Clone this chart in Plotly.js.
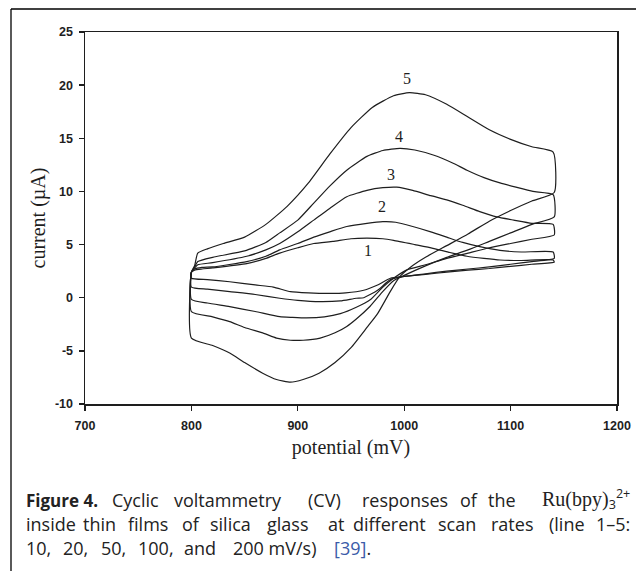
<!DOCTYPE html>
<html>
<head>
<meta charset="utf-8">
<script src="https://cdn.plot.ly/plotly-3.0.1.min.js"></script>
<style>html,body{margin:0;padding:0;background:#fff;}#chart{width:636px;height:571px;}</style>
</head>
<body>
<div id="chart"></div>
<script>
// ---- data (potential in mV, current in µA) ----
const curve1FwdX = [800, 803, 810, 820, 852, 870, 883, 900, 915, 933, 950, 965, 980, 990, 1010, 1027, 1043, 1059, 1075, 1090, 1110, 1140];
const curve1FwdY = [2.4, 2.6, 2.7, 2.8, 3.2, 3.7, 4.2, 4.7, 5.1, 5.3, 5.55, 5.6, 5.55, 5.4, 5.0, 4.65, 4.25, 3.9, 3.7, 3.55, 3.5, 3.55];
const curve1RevX = [1141, 1120, 1100, 1080, 1060, 1040, 1020, 1000, 987, 975, 962, 945, 930, 910, 893, 877, 860, 836, 815, 800, 800];
const curve1RevY = [3.35, 3.15, 2.95, 2.75, 2.6, 2.4, 2.2, 2.0, 1.83, 1.2, 0.7, 0.45, 0.4, 0.45, 0.57, 1.0, 1.2, 1.5, 1.7, 1.83, 2.4];

const curve2FwdX = [800, 803, 810, 820, 852, 870, 883, 900, 915, 930, 946, 965, 980, 992, 1008, 1025, 1040, 1055, 1071, 1090, 1110, 1140];
const curve2FwdY = [2.4, 2.7, 2.85, 2.9, 3.4, 3.9, 4.5, 5.1, 5.7, 6.2, 6.7, 7.0, 7.15, 7.1, 6.7, 6.2, 5.7, 5.2, 4.8, 4.45, 4.3, 4.3];
const curve2RevX = [1141, 1120, 1100, 1080, 1060, 1040, 1020, 1000, 987, 975, 962, 955, 940, 921, 900, 883, 860, 836, 815, 800, 800];
const curve2RevY = [3.7, 3.4, 3.15, 2.9, 2.7, 2.5, 2.25, 2.0, 1.7, 0.7, 0.0, -0.05, -0.3, -0.37, -0.25, -0.05, 0.3, 0.57, 0.8, 1.0, 2.4];

const curve3FwdX = [800, 803, 806, 820, 852, 870, 883, 900, 915, 930, 946, 965, 980, 993, 1008, 1025, 1040, 1055, 1071, 1087, 1103, 1120, 1140];
const curve3FwdY = [2.4, 2.8, 3.1, 3.3, 3.9, 4.5, 5.1, 6.2, 7.3, 8.4, 9.5, 10.1, 10.35, 10.4, 10.1, 9.6, 9.2, 8.7, 8.1, 7.6, 7.3, 7.0, 6.9];
const curve3RevX = [1141, 1120, 1100, 1080, 1060, 1040, 1020, 1002, 990, 980, 968, 955, 940, 925, 908, 895, 883, 860, 836, 815, 800, 800];
const curve3RevY = [5.9, 5.5, 5.1, 4.7, 4.2, 3.7, 3.1, 2.6, 1.83, 1.0, -0.2, -0.9, -1.5, -1.8, -1.9, -1.85, -1.78, -1.3, -0.84, -0.5, -0.15, 2.4];

const curve4FwdX = [800, 803, 806, 820, 850, 870, 883, 900, 915, 930, 946, 965, 980, 996, 1010, 1028, 1045, 1059, 1075, 1090, 1105, 1121, 1140];
const curve4FwdY = [2.4, 2.9, 3.4, 3.8, 4.4, 5.2, 6.1, 7.3, 8.9, 10.5, 12.0, 13.3, 13.85, 14.05, 13.9, 13.4, 12.7, 12.0, 11.3, 10.8, 10.4, 10.0, 9.7];
const curve4RevX = [1141, 1120, 1100, 1080, 1060, 1040, 1020, 1000, 990, 980, 968, 955, 946, 935, 921, 905, 893, 880, 868, 850, 836, 820, 800, 800];
const curve4RevY = [7.6, 6.9, 6.1, 5.3, 4.5, 3.8, 3.0, 2.1, 1.6, 0.6, -0.8, -2.0, -2.7, -3.3, -3.8, -4.0, -4.0, -3.8, -3.35, -2.8, -2.25, -1.8, -1.3, 2.4];

const curve5FwdX = [800, 803, 806, 815, 830, 850, 870, 890, 910, 930, 950, 970, 990, 1005, 1020, 1040, 1060, 1080, 1100, 1120, 1140];
const curve5FwdY = [2.4, 3.0, 4.2, 4.6, 5.1, 5.7, 6.9, 8.6, 10.8, 13.5, 16.0, 17.9, 19.0, 19.3, 19.1, 18.2, 17.0, 15.8, 14.9, 14.2, 13.7];
const curve5RevX = [1141, 1120, 1100, 1080, 1060, 1040, 1020, 1005, 996, 987, 975, 965, 950, 935, 920, 905, 893, 880, 867, 850, 836, 820, 800, 800];
const curve5RevY = [9.9, 9.1, 8.2, 7.2, 6.0, 4.9, 3.8, 2.8, 2.0, 0.6, -1.5, -2.8, -4.7, -6.1, -7.1, -7.7, -7.95, -7.7, -7.1, -6.1, -5.2, -4.5, -3.8, 2.4];

const curveLabels = ["1", "2", "3", "4", "5"];
const labelX = [966, 979, 988, 995, 1003];
const labelY = [4.4, 8.6, 11.6, 15.2, 20.6];

const xTickVals = [700, 800, 900, 1000, 1100, 1200];
const yTickVals = [-10, -5, 0, 5, 10, 15, 20, 25];

// caption words (justified lines are set word by word)
const captionLine1 = ['<b style="font-size:17px">Figure 4.</b>', 'Cyclic', 'voltammetry', '(CV)', 'responses', 'of', 'the'];
const captionLine2 = ['inside', 'thin', 'films', 'of', 'silica', 'glass', 'at', 'different', 'scan', 'rates', '(line'];
const captionLine3 = ['10,', '20,', '50,', '100,', 'and', '200 mV/s)', '<span style="color:#3b5ba8">[39]</span>.'];

// ---- layout geometry (pixels) ----
const W = 636, H = 571;
const L = 85, R = 617, T = 32, B = 404;
const px2x = p => (p - L) / (R - L);
const py2y = p => (B - p) / (B - T);
const line1Left = [24, 110, 172, 306, 360, 458, 486];
const line2Left = [24, 81, 126, 180, 208, 265, 326, 351, 436, 489, 547];
const line3Left = [24, 61, 99, 136, 182, 231, 332];

const ink = '#1e1e1e';
const fwdX = [curve1FwdX, curve2FwdX, curve3FwdX, curve4FwdX, curve5FwdX];
const fwdY = [curve1FwdY, curve2FwdY, curve3FwdY, curve4FwdY, curve5FwdY];
const revX = [curve1RevX, curve2RevX, curve3RevX, curve4RevX, curve5RevX];
const revY = [curve1RevY, curve2RevY, curve3RevY, curve4RevY, curve5RevY];

const traces = fwdX.map((fx, i) => ({
  type: 'scatter', mode: 'lines',
  x: fx.concat(revX[i]), y: fwdY[i].concat(revY[i]),
  line: {color: ink, width: 1.2, shape: 'spline', smoothing: 0.5},
  hoverinfo: 'skip', showlegend: false
}));

const annotations = curveLabels.map((t, i) => ({
  x: labelX[i], y: labelY[i], xref: 'x', yref: 'y', text: t, showarrow: false,
  font: {family: 'Liberation Serif, serif', size: 16, color: ink}
}));

const capFont = {family: 'Open Sans, Noto Sans, sans-serif', size: 18, color: '#222'};
function cap(text, px, py, anchor) {
  annotations.push({xref: 'paper', yref: 'paper', x: px2x(px), y: py2y(py), text: text,
    showarrow: false, xanchor: anchor, yanchor: 'middle', font: capFont});
}
const l1 = 500, l2 = 524, l3 = 548;
captionLine1.forEach((w, i) => cap(w, line1Left[i], l1, 'left'));
cap('<span style="font-family:Liberation Serif;font-size:20px">Ru(bpy)</span><sub>3</sub><sup>2+</sup>', 632, l1 - 1, 'right');
captionLine2.forEach((w, i) => cap(w, line2Left[i], l2, 'left'));
cap('1–5:', 632, l2, 'right');
captionLine3.forEach((w, i) => cap(w, line3Left[i], l3, 'left'));

const shapes = [
  {type: 'line', xref: 'paper', yref: 'paper', x0: px2x(11), x1: px2x(11), y0: py2y(9), y1: py2y(H + 5), line: {color: '#000', width: 1.3}},
  {type: 'line', xref: 'paper', yref: 'paper', x0: px2x(11), x1: px2x(W + 5), y0: py2y(9), y1: py2y(9), line: {color: '#000', width: 1.3}}
];

const tickFont = {family: 'Liberation Sans, Arial, sans-serif', size: 12.5, color: ink, weight: 'bold'};
const titleFont = {family: 'Liberation Serif, serif', size: 20, color: ink};

const layout = {
  width: W, height: H,
  margin: {l: L, r: W - R, t: T, b: H - B, pad: 0},
  paper_bgcolor: '#fff', plot_bgcolor: '#fff',
  showlegend: false,
  xaxis: {
    range: [700, 1200], tickvals: xTickVals, ticktext: xTickVals.map(String),
    showgrid: false, zeroline: false, showline: true, mirror: true,
    linecolor: ink, linewidth: 1.5, ticks: 'outside', ticklen: 5, tickwidth: 1.3, tickcolor: ink,
    tickfont: tickFont, ticklabelstandoff: 4,
    title: {text: 'potential (mV)', font: titleFont, standoff: 8}
  },
  yaxis: {
    range: [-10, 25], tickvals: yTickVals, ticktext: yTickVals.map(String),
    showgrid: false, zeroline: false, showline: true, mirror: true,
    linecolor: ink, linewidth: 1.5, ticks: 'outside', ticklen: 5, tickwidth: 1.3, tickcolor: ink,
    tickfont: tickFont, ticklabelstandoff: 3,
    title: {text: 'current (µA)', font: titleFont, standoff: 4}
  },
  annotations: annotations,
  shapes: shapes
};

Plotly.newPlot('chart', traces, layout, {staticPlot: true, displayModeBar: false});
</script>
</body>
</html>
